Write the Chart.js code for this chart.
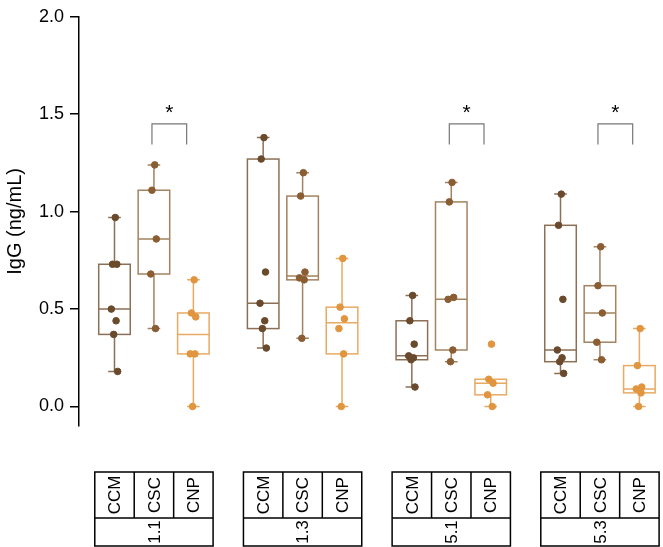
<!DOCTYPE html>
<html>
<head>
<meta charset="utf-8">
<script src="https://cdn.jsdelivr.net/npm/chart.js@4.4.1/dist/chart.umd.min.js"></script>
<style>
  body { margin: 0; background: #fff; }
  #wrap { width: 663px; height: 547px; }
</style>
</head>
<body>
<div id="wrap"><canvas id="myChart"></canvas></div>
<script>
const groups = ['1.1', '1.3', '5.1', '5.3'];
const categories = ['CCM', 'CSC', 'CNP'];
const yTicks = [0, 0.5, 1.0, 1.5, 2.0];
const yTitle = 'IgG (ng/mL)';

// box summary per group: [low whisker, q1, median, q3, high whisker]
const ccmBox = [[0.18, 0.37, 0.50, 0.73, 0.97], [0.30, 0.40, 0.53, 1.27, 1.38], [0.10, 0.24, 0.26, 0.44, 0.57], [0.17, 0.23, 0.29, 0.93, 1.09]];
const cscBox = [[0.40, 0.68, 0.86, 1.11, 1.24], [0.35, 0.65, 0.67, 1.08, 1.20], [0.23, 0.29, 0.55, 1.05, 1.15], [0.24, 0.33, 0.48, 0.62, 0.82]];
const cnpBox = [[0.00, 0.27, 0.37, 0.48, 0.65], [0.00, 0.27, 0.43, 0.51, 0.76], [0.00, 0.06, 0.12, 0.14, 0.14], [0.00, 0.07, 0.09, 0.21, 0.40]];

// individual samples per group
const ccmPoints = [[0.97, 0.73, 0.73, 0.50, 0.44, 0.37, 0.18], [1.38, 1.27, 0.69, 0.53, 0.44, 0.40, 0.30], [0.57, 0.44, 0.32, 0.26, 0.25, 0.24, 0.10], [1.09, 0.93, 0.55, 0.29, 0.25, 0.23, 0.17]];
const cscPoints = [[1.24, 1.11, 0.86, 0.68, 0.40], [1.20, 1.08, 0.69, 0.66, 0.65, 0.35], [1.15, 1.05, 0.56, 0.55, 0.29, 0.23], [0.82, 0.62, 0.48, 0.33, 0.24]];
const cnpPoints = [[0.65, 0.48, 0.46, 0.27, 0.27, 0.00], [0.76, 0.51, 0.45, 0.40, 0.27, 0.00], [0.32, 0.14, 0.12, 0.06, 0.00], [0.40, 0.21, 0.10, 0.09, 0.07, 0.00]];

// groups where CSC vs CNP is marked *
const sigGroups = ['1.1', '5.1', '5.3'];

const boxes = [ccmBox, cscBox, cnpBox];
const points = [ccmPoints, cscPoints, cnpPoints];
const lineColors = ['#8c7055', '#a3835f', '#e8aa62'];
const dotColors = ['#6a4a2c', '#8a5d33', '#e0953e'];
const jit = [0.02, -0.05, 0.06, -0.08, 0.04, -0.02, 0.08];
const FONT = '"Liberation Sans", Arial, sans-serif';

Chart.defaults.font.family = FONT;
Chart.defaults.color = '#000';

function pos(g, c) { return g * 3.77 + c; }

const boxPlugin = {
  id: 'boxes',
  beforeDatasetsDraw(chart) {
    const { ctx, scales: { x, y } } = chart;
    ctx.save();
    ctx.lineWidth = 1.5;
    boxes.forEach((set, c) => {
      ctx.strokeStyle = lineColors[c];
      set.forEach((b, g) => {
        const cx = x.getPixelForValue(pos(g, c));
        const hw = x.getPixelForValue(pos(g, c) + 0.4) - cx;
        const cw = x.getPixelForValue(pos(g, c) + 0.16) - cx;
        const [lo, q1, med, q3, hi] = b.map(v => y.getPixelForValue(v));
        ctx.strokeRect(cx - hw, q3, 2 * hw, q1 - q3);
        ctx.beginPath();
        ctx.moveTo(cx - hw, med); ctx.lineTo(cx + hw, med);
        if (hi < q3 - 0.5) {
          ctx.moveTo(cx, q3); ctx.lineTo(cx, hi);
          ctx.moveTo(cx - cw, hi); ctx.lineTo(cx + cw, hi);
        }
        if (lo > q1 + 0.5) {
          ctx.moveTo(cx, q1); ctx.lineTo(cx, lo);
          ctx.moveTo(cx - cw, lo); ctx.lineTo(cx + cw, lo);
        }
        ctx.stroke();
      });
    });
    ctx.restore();
  },
  afterDatasetsDraw(chart) {
    const { ctx, scales: { x, y } } = chart;
    ctx.save();
    ctx.strokeStyle = '#777';
    ctx.lineWidth = 1.2;
    sigGroups.forEach(name => {
      const g = groups.indexOf(name);
      const x1 = x.getPixelForValue(pos(g, 1) - 0.05);
      const x2 = x.getPixelForValue(pos(g, 2) - 0.17);
      const top = y.getPixelForValue(1.45);
      const bot = y.getPixelForValue(1.345);
      ctx.beginPath();
      ctx.moveTo(x1, bot); ctx.lineTo(x1, top); ctx.lineTo(x2, top); ctx.lineTo(x2, bot);
      ctx.stroke();
      ctx.fillStyle = '#000';
      ctx.font = '21px ' + FONT;
      ctx.textAlign = 'center';
      ctx.textBaseline = 'alphabetic';
      ctx.fillText('*', (x1 + x2) / 2, top - 5);
    });
    ctx.restore();
  }
};

const tablePlugin = {
  id: 'table',
  afterDraw(chart) {
    const { ctx, chartArea, scales: { x } } = chart;
    const top = chartArea.bottom + 46;
    const mid = top + 46;
    const bot = top + 74;
    ctx.save();
    ctx.fillStyle = '#000';
    ctx.textAlign = 'center';
    ctx.textBaseline = 'middle';

    // y axis title
    ctx.font = '20px ' + FONT;
    ctx.save();
    ctx.translate(15, (chartArea.top + chartArea.bottom) / 2);
    ctx.rotate(-Math.PI / 2);
    ctx.fillText(yTitle, 0, 0);
    ctx.restore();

    ctx.strokeStyle = '#000';
    ctx.lineWidth = 1.5;
    ctx.font = '17px ' + FONT;
    groups.forEach((name, g) => {
      const left = x.getPixelForValue(pos(g, 0) - 0.5);
      const right = x.getPixelForValue(pos(g, 2) + 0.5);
      ctx.strokeRect(left, top, right - left, bot - top);
      ctx.beginPath();
      ctx.moveTo(left, mid); ctx.lineTo(right, mid);
      for (let c = 1; c < 3; c++) {
        const xx = x.getPixelForValue(pos(g, c) - 0.5);
        ctx.moveTo(xx, top); ctx.lineTo(xx, mid);
      }
      ctx.stroke();
      categories.forEach((cat, c) => {
        ctx.save();
        ctx.translate(x.getPixelForValue(pos(g, c)) + 1, (top + mid) / 2);
        ctx.rotate(-Math.PI / 2);
        ctx.fillText(cat, 0, 0);
        ctx.restore();
      });
      ctx.save();
      ctx.translate(x.getPixelForValue(pos(g, 1)) + 1, (mid + bot) / 2);
      ctx.rotate(-Math.PI / 2);
      ctx.fillText(name, 0, 0);
      ctx.restore();
    });
    ctx.restore();
  }
};

const datasets = categories.map((cat, c) => ({
  label: cat,
  data: points[c].flatMap((vals, g) => vals.map((v, i) => ({ x: pos(g, c) + jit[i % jit.length], y: v }))),
  backgroundColor: dotColors[c],
  borderColor: dotColors[c],
  pointRadius: 3.3,
  pointHoverRadius: 3.3
}));

new Chart(document.getElementById('myChart'), {
  type: 'scatter',
  data: { datasets },
  plugins: [boxPlugin, tablePlugin],
  options: {
    responsive: true,
    maintainAspectRatio: false,
    animation: false,
    layout: { padding: { left: 0, right: 0, top: 0, bottom: 121 } },
    plugins: { legend: { display: false }, tooltip: { enabled: false } },
    scales: {
      x: { type: 'linear', min: -0.9, max: 13.8, display: false },
      y: {
        min: -0.1,
        max: 2.0,
        afterBuildTicks: s => { s.ticks = yTicks.map(v => ({ value: v })); },
        afterFit: s => { s.width = 79; },
        ticks: {
          color: '#000',
          font: { size: 18 },
          padding: 6,
          callback: v => v.toFixed(1)
        },
        grid: { drawOnChartArea: false, drawTicks: true, tickLength: 9, color: '#000', lineWidth: 1.5 },
        border: { display: true, color: '#000', width: 1.5 },
        title: { display: false }
      }
    }
  }
});
</script>
</body>
</html>
